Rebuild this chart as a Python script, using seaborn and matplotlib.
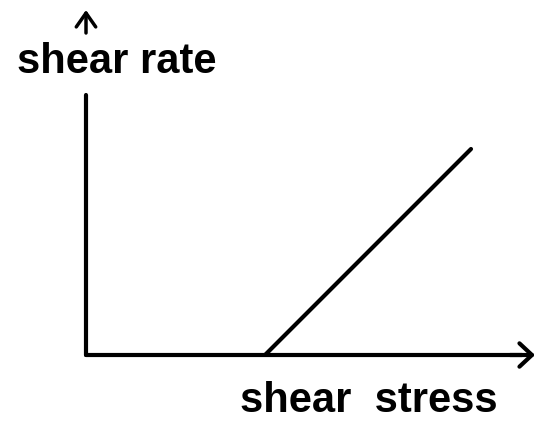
import matplotlib
matplotlib.use("Agg")
import matplotlib.pyplot as plt
import seaborn as sns

# Bingham-plastic style flow curve: no flow until the yield stress
shear_stress = [1.79, 3.85]
shear_rate = [0.0, 2.06]
x_label = "shear  stress"
y_label = "shear rate"

sns.set_style("white")
plt.rcParams['font.family'] = ['Liberation Sans', 'DejaVu Sans']
plt.rcParams['text.color'] = 'black'

fig = plt.figure(figsize=(5.34, 4.21), dpi=100)
# axes origin sits at pixel (86, 355) of the picture
ax = fig.add_axes([86 / 534, 66 / 421, (522 - 86) / 534, (355 - 95) / 421])

sns.lineplot(x=shear_stress, y=shear_rate, ax=ax, color='black', linewidth=3)

ax.set_xlim(0, 4.36)
ax.set_ylim(0, 2.60)
ax.set_xticks([])
ax.set_yticks([])
ax.set_xlabel('')
ax.set_ylabel('')
for side in ['top', 'right']:
    ax.spines[side].set_visible(False)
for side in ['left', 'bottom']:
    ax.spines[side].set_linewidth(3)
    ax.spines[side].set_color('black')
    ax.spines[side].set_capstyle('round')

# arrow at the end of the x axis
ax.annotate('', xy=(535, 66), xycoords='figure pixels', xytext=(510, 66),
            textcoords='figure pixels',
            arrowprops=dict(arrowstyle='->, head_length=0.45, head_width=0.42',
                            lw=3, color='black', mutation_scale=20,
                            shrinkA=0, shrinkB=0))

# little arrow above the y label
ax.annotate('', xy=(86, 421 - 10), xycoords='figure pixels', xytext=(86, 421 - 33),
            textcoords='figure pixels',
            arrowprops=dict(arrowstyle='->, head_length=0.5, head_width=0.35',
                            lw=2.5, color='black', mutation_scale=20,
                            shrinkA=0, shrinkB=0))

fig.text(17 / 534, 1 - 73 / 421, y_label, fontsize=30, fontweight='bold',
         color='black', ha='left', va='baseline')
fig.text(240 / 534, 1 - 412 / 421, x_label, fontsize=30, fontweight='bold',
         color='black', ha='left', va='baseline')

fig.savefig('out.png', dpi=100)
